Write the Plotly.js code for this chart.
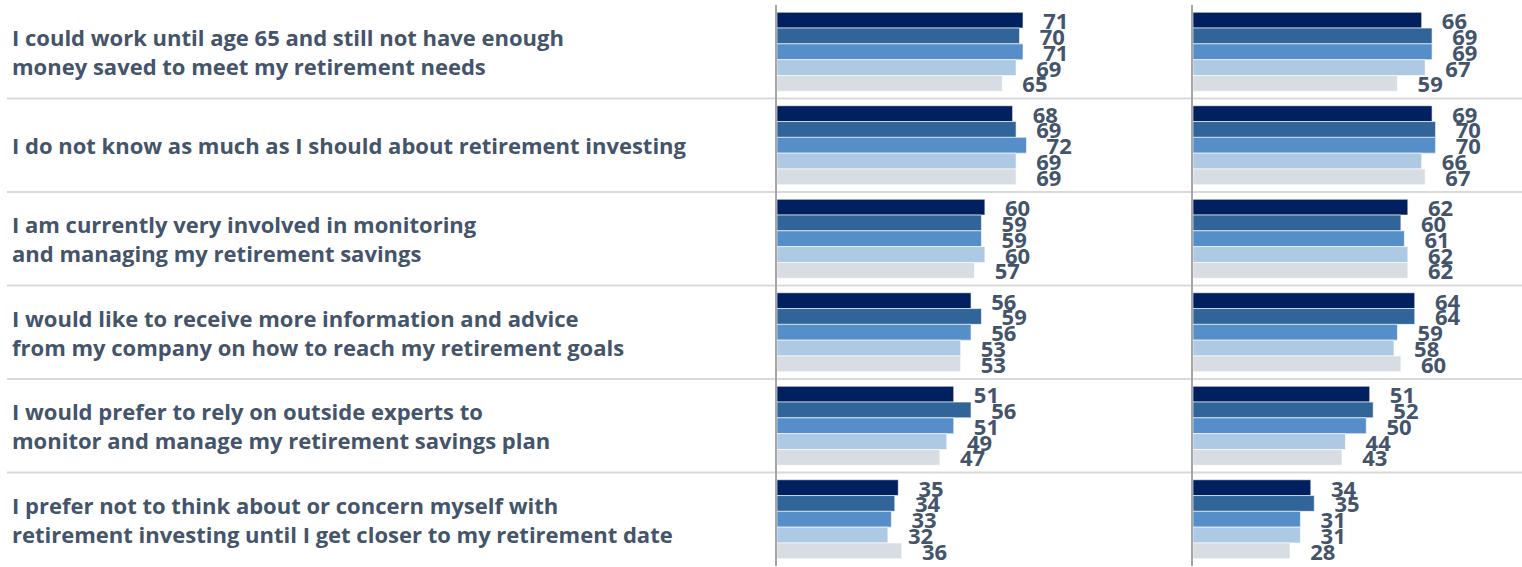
<!DOCTYPE html>
<html>
<head>
<meta charset="utf-8">
<script src="https://cdn.plot.ly/plotly-3.0.1.min.js"></script>
<style>html,body{margin:0;padding:0;background:#fff;}#chart{width:1522px;height:567px;}</style>
</head>
<body>
<div id="chart"></div>
<script>
const categories = [
  "I could work until age 65 and still not have enough<br>money saved to meet my retirement needs",
  "I do not know as much as I should about retirement investing",
  "I am currently very involved in monitoring<br>and managing my retirement savings",
  "I would like to receive more information and advice<br>from my company on how to reach my retirement goals",
  "I would prefer to rely on outside experts to<br>monitor and manage my retirement savings plan",
  "I prefer not to think about or concern myself with<br>retirement investing until I get closer to my retirement date"
];
const seriesNames = ["Series 1", "Series 2", "Series 3", "Series 4", "Series 5"];
const seriesColors = ["#002060", "#31659a", "#558ec8", "#adc9e4", "#d8dde3"];

// Left panel values, one array per series (rows top to bottom)
const left1 = [71, 68, 60, 56, 51, 35];
const left2 = [70, 69, 59, 59, 56, 34];
const left3 = [71, 72, 59, 56, 51, 33];
const left4 = [69, 69, 60, 53, 49, 32];
const left5 = [65, 69, 57, 53, 47, 36];

// Right panel values
const right1 = [66, 69, 62, 64, 51, 34];
const right2 = [69, 70, 60, 64, 52, 35];
const right3 = [69, 70, 61, 59, 50, 31];
const right4 = [67, 66, 62, 58, 44, 31];
const right5 = [59, 67, 62, 60, 43, 28];

const leftSeries = [left1, left2, left3, left4, left5];
const rightSeries = [right1, right2, right3, right4, right5];

const textColor = "#44546a";
const pad = "\u00a0\u00a0\u00a0";

const traces = [];
function addPanel(seriesList, xa, ya) {
  seriesList.forEach((vals, i) => {
    traces.push({
      type: "bar",
      orientation: "h",
      name: seriesNames[i],
      x: vals,
      y: categories,
      xaxis: xa,
      yaxis: ya,
      marker: {color: seriesColors[i], line: {color: "rgba(255,255,255,0.6)", width: 1}},
      text: vals.map(v => pad + v),
      textposition: "outside",
      constraintext: "none",
      cliponaxis: false,
      textfont: {family: "Open Sans", size: 22, color: textColor, weight: 700},
      hoverinfo: "x",
      showlegend: false
    });
  });
}
addPanel(leftSeries, "x", "y");
addPanel(rightSeries, "x2", "y2");

const W = 1522;
const annotations = categories.map(c => ({
  xref: "paper", yref: "y", x: 10 / W, y: c,
  xanchor: "left", yanchor: "middle", align: "left",
  text: c, showarrow: false,
  font: {family: "Open Sans", size: 22, color: textColor, weight: 700}
}));

const shapes = [];
for (let k = 0; k < categories.length - 1; k++) {
  shapes.push({
    type: "line", xref: "paper", yref: "y",
    x0: 7 / W, x1: 1, y0: k + 0.5, y1: k + 0.5,
    line: {color: "#d9d9d9", width: 2}, layer: "below"
  });
}

const yBase = {
  type: "category", autorange: false, range: [categories.length - 0.5, -0.5],
  showticklabels: false, showgrid: false, zeroline: false,
  showline: true, linecolor: "#a6a6a6", linewidth: 2, ticks: "", domain: [0, 1]
};
const xBase = {showticklabels: false, showgrid: false, zeroline: false, showline: false, ticks: ""};

const layout = {
  width: 1522, height: 567,
  margin: {l: 0, r: 0, t: 5, b: 1},
  paper_bgcolor: "#ffffff", plot_bgcolor: "rgba(0,0,0,0)",
  barmode: "group", bargap: 0.155, bargroupgap: 0,
  showlegend: false,
  xaxis: Object.assign({}, xBase, {domain: [777 / W, 1192 / W], range: [0, 415 / 3.465]}),
  xaxis2: Object.assign({}, xBase, {domain: [1193 / W, 1], range: [0, 329 / 3.465]}),
  yaxis: Object.assign({}, yBase, {anchor: "x"}),
  yaxis2: Object.assign({}, yBase, {anchor: "x2", matches: "y"}),
  annotations: annotations,
  shapes: shapes
};

Plotly.newPlot("chart", traces, layout, {displayModeBar: false, staticPlot: true});
</script>
</body>
</html>
